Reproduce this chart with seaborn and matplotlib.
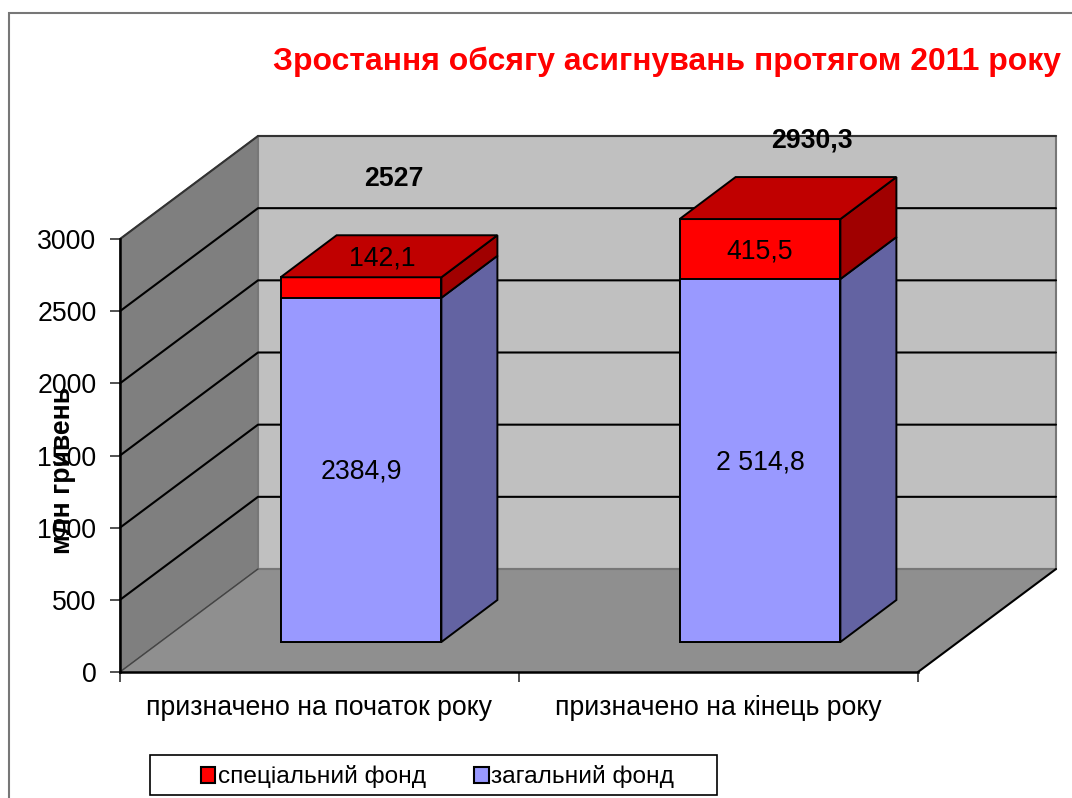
import seaborn as sns
import matplotlib.pyplot as plt
from matplotlib.patches import Patch, Polygon, Rectangle

categories = ['призначено на початок року', 'призначено на кінець року']
general = [2384.9, 2514.8]
special = [142.1, 415.5]
totals = [2527, 2930.3]
general_labels = ['2384,9', '2 514,8']
special_labels = ['142,1', '415,5']
total_labels = ['2527', '2930,3']
y_ticks = [0, 500, 1000, 1500, 2000, 2500, 3000]

W, H = 1072, 798
PX_X = 399          # pixels per category
PX_Y = 433 / 3000   # pixels per unit

sns.set_style('white')
plt.rcParams['font.family'] = ['Liberation Sans', 'DejaVu Sans']
plt.rcParams['text.color'] = 'black'
plt.rcParams['xtick.color'] = 'black'
plt.rcParams['ytick.color'] = 'black'
FS = 19.2


def px_axes(fig, left, base, right, top):
    return fig.add_axes([left / W, (H - base) / H, (right - left) / W, (base - top) / H])


def poly(ax, pts, color, edge='none', lw=0, z=1):
    ax.add_patch(Polygon(pts, closed=True, facecolor=color, edgecolor=edge, linewidth=lw,
                         zorder=z, clip_on=False, joinstyle='miter'))


fig = plt.figure(figsize=(W / 100, H / 100), dpi=100)
fig.patches.append(Rectangle((9 / W, -0.1), 1.2, (H - 13) / H + 0.1, transform=fig.transFigure,
                             facecolor='white', edgecolor='#777777', linewidth=1.5, figure=fig, zorder=-1))

# front plane axes, holds the walls
ax = px_axes(fig, 120, 672, 918, 239)
ax.patch.set_alpha(0)
ax.set_xlim(-0.5, 1.5)
ax.set_ylim(0, 3000)
dx = 138 / PX_X
dy = 103 / PX_Y
x0, x1 = -0.5, 1.5
poly(ax, [(x0, 0), (x0, 3000), (x0 + dx, 3000 + dy), (x0 + dx, dy)], '#7f7f7f', '#555555', 1, 1)
poly(ax, [(x0 + dx, dy), (x1 + dx, dy), (x1 + dx, 3000 + dy), (x0 + dx, 3000 + dy)], '#c0c0c0', '#777777', 1.5, 1)
poly(ax, [(x0, 0), (x1, 0), (x1 + dx, dy), (x0 + dx, dy)], '#8f8f8f', 'none', 0, 2)
ax.plot([x0, x0 + dx], [0, dy], color='#444444', lw=1, zorder=3, clip_on=False)
ax.plot([x1, x1 + dx], [0, dy], color='black', lw=1.5, zorder=3, clip_on=False)
ax.plot([x0 + dx, x1 + dx], [dy, dy], color='#777777', lw=1.5, zorder=2, clip_on=False)
for t in y_ticks[1:]:
    c = '#333333' if t == 3000 else 'black'
    ax.plot([x0, x0 + dx, x1 + dx], [t, t + dy, t + dy], color=c, lw=1.5, zorder=3, clip_on=False)

ax.set_yticks(y_ticks)
ax.set_yticklabels([str(t) for t in y_ticks], fontsize=FS)
ax.set_xticks([0, 1])
ax.set_xticklabels(categories, fontsize=FS)
ax.set_xticks([-0.5, 0.5, 1.5], minor=True)
ax.tick_params(axis='y', left=True, length=7, width=1.2, color='#333333', pad=10)
ax.tick_params(axis='x', which='major', bottom=False, pad=13)
ax.tick_params(axis='x', which='minor', bottom=True, length=7, width=1.2, color='#333333')
sns.despine(ax=ax, top=True, right=True)
for s in ['left', 'bottom']:
    ax.spines[s].set_color('black')
    ax.spines[s].set_linewidth(1.8)
    ax.spines[s].set_zorder(4)
ax.set_ylabel('')

# bars sit inside the box, so their axes is the front plane moved back
bars = px_axes(fig, 161.5, 642, 959.5, 209)
bars.patch.set_alpha(0)
sns.barplot(x=categories, y=totals, color='#ff0000', saturation=1, width=0.403,
            edgecolor='black', linewidth=1.4, ax=bars)
sns.barplot(x=categories, y=general, color='#9999ff', saturation=1, width=0.403,
            edgecolor='black', linewidth=1.4, ax=bars)
bars.set_xlim(-0.5, 1.5)
bars.set_ylim(0, 3000)
bars.axis('off')
for p in bars.patches:
    p.set_clip_on(False)

bx = 56 / PX_X
by = 42 / PX_Y
n = len(categories)
for i in range(n):
    p = bars.patches[i]
    a, b = p.get_x(), p.get_x() + p.get_width()
    g, t = general[i], totals[i]
    poly(bars, [(b, 0), (b, g), (b + bx, g + by), (b + bx, by)], '#6363a2', 'black', 1.4, 1)
    poly(bars, [(b, g), (b, t), (b + bx, t + by), (b + bx, g + by)], '#a00000', 'black', 1.4, 1)
    poly(bars, [(a, t), (b, t), (b + bx, t + by), (a + bx, t + by)], '#c00000', 'black', 1.4, 1)

special_off = [(21, 29), (0, -2)]
total_off = [(33, 98), (52, 79)]
for i in range(n):
    bars.annotate(general_labels[i], (i, general[i] / 2), xytext=(0, -2), textcoords='offset pixels',
                  ha='center', va='center', fontsize=FS, zorder=6)
    bars.annotate(special_labels[i], (i, general[i] + special[i] / 2), xytext=special_off[i],
                  textcoords='offset pixels', ha='center', va='center', fontsize=FS, zorder=6)
    bars.annotate(total_labels[i], (i, totals[i]), xytext=total_off[i], textcoords='offset pixels',
                  ha='center', va='center', fontsize=FS, fontweight='bold', zorder=6, annotation_clip=False)

fig.text(667 / W, 1 - 62 / H, 'Зростання обсягу асигнувань протягом 2011 року', color='#ff0000',
         fontsize=22.95, fontweight='bold', ha='center', va='center')
fig.text(63 / W, 1 - 470 / H, 'млн гривень', rotation=90, fontsize=FS, fontweight='bold',
         ha='center', va='center', zorder=10)

# legend
fig.patches.append(Rectangle((150 / W, 1 - 795 / H), 567 / W, 40 / H, transform=fig.transFigure,
                             facecolor='white', edgecolor='black', linewidth=1.2, figure=fig, zorder=-1))
handles = [Patch(facecolor='#ff0000', edgecolor='black', linewidth=1.5, label='спеціальний фонд'),
           Patch(facecolor='#9999ff', edgecolor='black', linewidth=1.5, label='загальний фонд')]
fig.legend(handles=handles, loc='center', bbox_to_anchor=(437.5 / W, 1 - 777 / H), ncol=2, frameon=False,
           fontsize=17.6, handlelength=0.6, handleheight=0.6, handletextpad=0.12, columnspacing=1.95)

fig.savefig('out.png', dpi=100)
